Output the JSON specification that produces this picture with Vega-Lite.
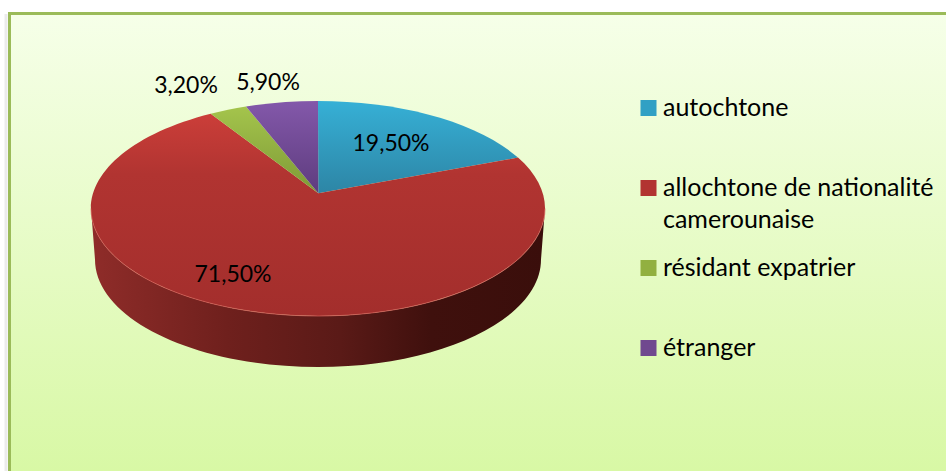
{
  "$schema": "https://vega.github.io/schema/vega-lite/v6.json",
  "autosize": "none",
  "width": 938,
  "height": 459,
  "padding": {"left": 8, "top": 12, "right": 0, "bottom": 0},
  "background": "#ffffff",
  "view": {
    "stroke": null,
    "fill": {"gradient": "linear", "x1": 0, "y1": 0, "x2": 0, "y2": 1, "stops": [{"offset": 0, "color": "#f6ffe9"}, {"offset": 1, "color": "#d8f8a5"}]}
  },
  "config": {"font": "Lato"},
  "data": {"values": [
    {"categorie": "autochtone", "part": 19.5, "libelle": "19,50%"},
    {"categorie": "allochtone de nationalité camerounaise", "part": 71.5, "libelle": "71,50%"},
    {"categorie": "résidant expatrier", "part": 3.2, "libelle": "3,20%"},
    {"categorie": "étranger", "part": 5.9, "libelle": "5,90%"}
  ]},
  "layer": [
    {
      "data": {"values": [{"bord": "gauche"}]},
      "mark": {"type": "rule", "stroke": "#9a9a9a", "strokeWidth": 3, "opacity": 0.2},
      "encoding": {"x": {"value": -2}, "y": {"value": 2}, "y2": {"value": 459}}
    },
    {
      "data": {"values": [{"bord": "gauche"}]},
      "mark": {"type": "rule", "stroke": "#9bbb59", "strokeWidth": 3},
      "encoding": {"x": {"value": 1.5}, "y": {"value": 0}, "y2": {"value": 459}}
    },
    {
      "data": {"values": [{"bord": "haut"}]},
      "mark": {"type": "rule", "stroke": "#9bbb59", "strokeWidth": 3},
      "encoding": {"y": {"value": 1.5}, "x": {"value": 0}, "x2": {"value": 938}}
    },
    {
      "mark": {"type": "point", "filled": true, "size": 0, "shape": "square", "opacity": 1, "strokeWidth": 0},
      "encoding": {
        "color": {
          "field": "categorie", "type": "nominal", "sort": null,
          "scale": {
            "domain": ["autochtone", "allochtone de nationalité camerounaise", "résidant expatrier", "étranger"],
            "range": ["#31a0c4", "#b23431", "#92b040", "#70498f"]
          },
          "legend": {
            "title": null, "orient": "none", "legendX": 628, "legendY": 63, "padding": 0,
            "symbolType": "square", "symbolSize": 256, "symbolStrokeWidth": 0, "symbolOpacity": 1,
            "clipHeight": 80, "rowPadding": 0, "labelFontSize": 25, "labelColor": "#000000", "labelFont": "Lato",
            "labelLimit": 400, "labelOffset": 2, "offset": 0,
            "labelExpr": "indexof(datum.label, 'camerounaise') >= 0 ? ['allochtone de nationalité', 'camerounaise'] : datum.label",
            "encode": {
              "labels": {"update": {"lineHeight": {"value": 32}, "y": {"value": 33}}},
              "symbols": {"update": {"y": {"value": 33}}}
            }
          }
        }
      }
    },
    {
      "transform": [{"filter": "datum.part == 71.5"}],
      "mark": {
        "type": "point", "filled": true, "size": 4, "opacity": 1, "strokeWidth": 0,
        "shape": "M-386,-33A227,107.5 0 0 0 68,-33L64,18A223,107.5 0 0 1 -382,18Z",
        "color": {"gradient": "linear", "x1": 0, "y1": 0, "x2": 1, "y2": 0, "stops": [{"offset": 0, "color": "#8f2c29"}, {"offset": 0.3, "color": "#6f201d"}, {"offset": 0.55, "color": "#5a1a17"}, {"offset": 0.75, "color": "#3f100d"}, {"offset": 1, "color": "#3a0e0b"}]}
      }
    },
    {
      "transform": [{"filter": "datum.part == 19.5"}],
      "mark": {
        "type": "point", "filled": true, "size": 4, "opacity": 1, "strokeWidth": 0,
        "shape": "M-158.7,-48.2L-159,-140.5A227,107.5 0 0 1 41,-83.9Z",
        "color": {"gradient": "linear", "x1": 0, "y1": 0, "x2": 0, "y2": 1, "stops": [{"offset": 0, "color": "#36b0d6"}, {"offset": 1, "color": "#2d85a5"}]}
      }
    },
    {
      "transform": [{"filter": "datum.part == 71.5"}],
      "mark": {
        "type": "point", "filled": true, "size": 4, "opacity": 1, "strokeWidth": 0,
        "shape": "M-158.7,-48.2L41,-83.9A227,107.5 0 1 1 -266.3,-127.8Z",
        "color": {"gradient": "linear", "x1": 0, "y1": 0, "x2": 0, "y2": 1, "stops": [{"offset": 0, "color": "#cb3e39"}, {"offset": 0.3, "color": "#b13431"}, {"offset": 1, "color": "#a32e2c"}]}
      }
    },
    {
      "transform": [{"filter": "datum.part == 3.2"}],
      "mark": {
        "type": "point", "filled": true, "size": 4, "opacity": 1, "strokeWidth": 0,
        "shape": "M-158.7,-48.2L-266.3,-127.8A227,107.5 0 0 1 -231,-135Z",
        "color": {"gradient": "linear", "x1": 0, "y1": 0, "x2": 0, "y2": 1, "stops": [{"offset": 0, "color": "#a4c44c"}, {"offset": 1, "color": "#7e9a36"}]}
      }
    },
    {
      "transform": [{"filter": "datum.part == 5.9"}],
      "mark": {
        "type": "point", "filled": true, "size": 4, "opacity": 1, "strokeWidth": 0,
        "shape": "M-158.7,-48.2L-231,-135A227,107.5 0 0 1 -159,-140.5Z",
        "color": {"gradient": "linear", "x1": 0, "y1": 0, "x2": 0, "y2": 1, "stops": [{"offset": 0, "color": "#8358aa"}, {"offset": 1, "color": "#5e3c7e"}]}
      }
    },
    {
      "transform": [{"filter": "datum.part == 71.5"}],
      "mark": {
        "type": "point", "filled": false, "size": 4, "opacity": 0.7, "stroke": "#d9625c", "strokeWidth": 1,
        "shape": "M-386,-33A227,107.5 0 0 0 68,-33"
      }
    },
    {
      "mark": {"type": "text", "font": "Lato", "fontSize": 23, "color": "#000000", "align": "center", "baseline": "middle"},
      "encoding": {
        "text": {"field": "libelle", "type": "nominal"},
        "x": {
          "field": "part", "type": "quantitative", "axis": null,
          "scale": {"type": "linear", "zero": false, "nice": false, "domain": [3.2, 5.9, 19.5, 71.5], "range": [178, 260, 383, 225]}
        },
        "y": {
          "field": "part", "type": "quantitative", "axis": null,
          "scale": {"type": "linear", "zero": false, "nice": false, "domain": [3.2, 5.9, 19.5, 71.5], "range": [74, 71, 132, 263]}
        }
      }
    }
  ]
}
